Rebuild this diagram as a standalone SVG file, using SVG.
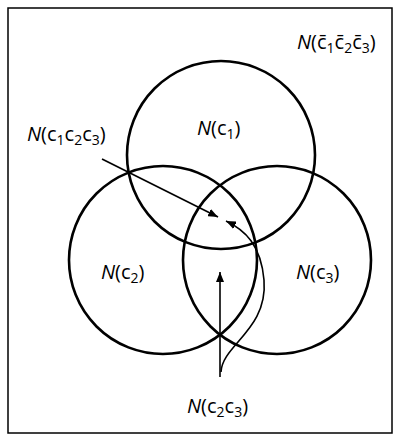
<svg xmlns="http://www.w3.org/2000/svg" width="394" height="439" viewBox="0 0 394 439">
<style>
.c{fill:none;stroke:#000;stroke-width:2.6}
.a{fill:none;stroke:#000;stroke-width:1.6}
text{font-family:"Open Sans","Liberation Sans",sans-serif;font-size:20px;fill:#000}
.i{font-style:italic}
.s{font-size:14px}
</style>
<defs>
<marker id="ah" viewBox="0 0 10 8" refX="10" refY="4" markerWidth="10" markerHeight="8" markerUnits="userSpaceOnUse" orient="auto">
<path d="M0 0L10 4L0 8Z" fill="#000"/>
</marker>
</defs>
<rect x="8" y="8" width="384" height="425" fill="#fff" stroke="#000" stroke-width="1.5"/>
<g id="c1"><circle class="c" cx="221" cy="155" r="94"/><text x="197" y="135"><tspan class="i">N</tspan>(c<tspan class="s" dy="4">1</tspan><tspan dy="-4">)</tspan></text></g>
<g id="c2"><circle class="c" cx="163" cy="260" r="94"/><text x="101" y="279"><tspan class="i">N</tspan>(c<tspan class="s" dy="4">2</tspan><tspan dy="-4">)</tspan></text></g>
<g id="c3"><circle class="c" cx="277" cy="260" r="94"/><text x="296" y="279"><tspan class="i">N</tspan>(c<tspan class="s" dy="4">3</tspan><tspan dy="-4">)</tspan></text></g>
<g id="c123"><text x="27" y="141"><tspan class="i">N</tspan>(c<tspan class="s" dy="4">1</tspan><tspan dy="-4">c</tspan><tspan class="s" dy="4">2</tspan><tspan dy="-4">c</tspan><tspan class="s" dy="4">3</tspan><tspan dy="-4">)</tspan></text></g>
<g id="notc"><text x="297" y="49"><tspan class="i">N</tspan>(c&#x0304;<tspan class="s" dy="4">1</tspan><tspan dy="-4">c&#x0304;</tspan><tspan class="s" dy="4">2</tspan><tspan dy="-4">c&#x0304;</tspan><tspan class="s" dy="4">3</tspan><tspan dy="-4">)</tspan></text></g>
<g id="c23"><text x="187" y="413"><tspan class="i">N</tspan>(c<tspan class="s" dy="4">2</tspan><tspan dy="-4">c</tspan><tspan class="s" dy="4">3</tspan><tspan dy="-4">)</tspan></text></g>
<g id="connectors">
<path class="a" d="M102 159L218 217" marker-end="url(#ah)"/>
<path class="a" d="M220 377L220 272" marker-end="url(#ah)"/>
<path class="a" d="M221 372C222 345 268 330 264 280C261 245 245 230 226 221" marker-end="url(#ah)"/>
</g>
</svg>
